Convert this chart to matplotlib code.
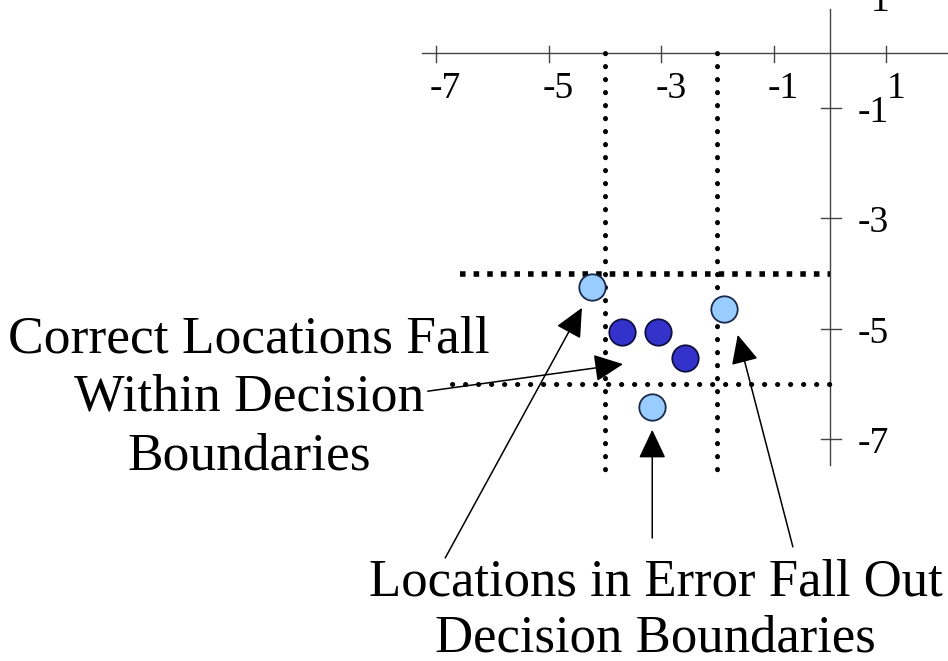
import matplotlib
matplotlib.use("Agg")
import matplotlib.pyplot as plt
from matplotlib.patches import FancyArrowPatch

plt.rcParams['font.family'] = ['Liberation Serif', 'DejaVu Serif']

# axis ticks
x_ticks = [-7, -5, -3, -1, 1]
y_ticks = [1, -1, -3, -5, -7]

# decision boundaries
bound_x = [-4, -2]
bound_y_top = -4
bound_y_bottom = -6

# location estimates
correct_x = [-3.70, -3.06, -2.58]
correct_y = [-5.06, -5.06, -5.53]
error_x = [-4.23, -1.88, -3.16]
error_y = [-4.24, -4.64, -6.42]

# arrow (tail -> tip)
arrows = [
    ((-7.15, -6.13), (-3.68, -5.64)),
    ((-6.84, -9.15), (-4.41, -4.62)),
    ((-3.16, -8.79), (-3.16, -6.83)),
    ((-0.66, -8.95), (-1.64, -5.11)),
]


def main():
    fig = plt.figure(figsize=(9.48, 6.61), dpi=100)
    ax = fig.add_axes([0, 0, 1, 1])
    ax.set_xlim(-830 / 56.25, (948 - 830) / 56.25)
    ax.set_ylim(-(661 - 52.8) / 55.2, 52.8 / 55.2)
    ax.axis('off')

    # coordinate axes
    axc = '#444444'
    ax.plot([-7.25, 3], [0, 0], color=axc, lw=1)
    ax.plot([0, 0], [0.79, -7.47], color=axc, lw=1)
    for t in x_ticks:
        ax.plot([t, t], [0.13, -0.16], color=axc, lw=1)
        ax.text(t + 0.17, -0.82, str(t), ha='center', va='baseline', fontsize=27)
    for t in y_ticks:
        ax.plot([-0.16, 0.2], [t, t], color=axc, lw=1)
        ax.text(1.05, t - 0.25, str(t), ha='right', va='baseline', fontsize=27)

    # decision boundaries
    for bx in bound_x:
        ax.plot([bx, bx], [0, -7.65], color='black', lw=3.6,
                linestyle=(0, (0.05, 2.55)), dash_capstyle='round')
    ax.plot([-6.58, 0], [bound_y_top, bound_y_top], color='black', lw=4,
            linestyle=(0, (1.0, 1.45)), dash_capstyle='butt')
    ax.plot([-6.72, 0], [bound_y_bottom, bound_y_bottom], color='black', lw=3.6,
            linestyle=(0, (0.05, 2.55)), dash_capstyle='round')

    # points
    ax.plot(error_x, error_y, 'o', ms=19, mfc='#99CCFF', mec='#1a2a4a', mew=1.3, ls='none', zorder=5)
    ax.plot(correct_x, correct_y, 'o', ms=19, mfc='#3333CC', mec='#101040', mew=1.3, ls='none', zorder=5)

    # arrows
    for tail, tip in arrows:
        arr = FancyArrowPatch(tail, tip, arrowstyle='-|>,head_length=18,head_width=8.5',
                              mutation_scale=1, shrinkA=0, shrinkB=0,
                              color='black', lw=1.1, zorder=6)
        ax.add_patch(arr)

    # annotations
    ax.text(-10.33, -6.25, 'Correct Locations Fall\nWithin Decision\nBoundaries',
            ha='center', va='center', multialignment='center', fontsize=38.5, linespacing=1.28)
    ax.text(-3.1, -10.1, 'Locations in Error Fall Out\nDecision Boundaries',
            ha='center', va='center', multialignment='center', fontsize=38, linespacing=1.22)

    fig.savefig('out.png', dpi=100)


if __name__ == "__main__":
    main()
